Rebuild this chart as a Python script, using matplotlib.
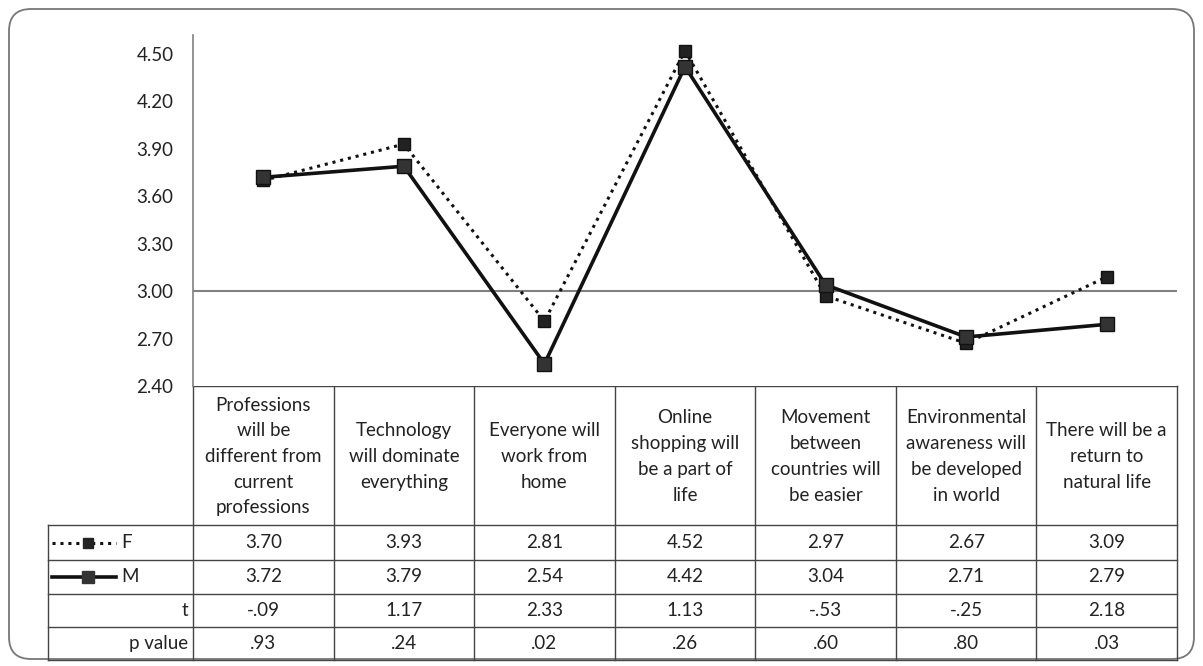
import numpy as np
import matplotlib.pyplot as plt
from matplotlib.patches import FancyBboxPatch
from matplotlib.lines import Line2D

categories = [
    "Professions\nwill be\ndifferent from\ncurrent\nprofessions",
    "Technology\nwill dominate\neverything",
    "Everyone will\nwork from\nhome",
    "Online\nshopping will\nbe a part of\nlife",
    "Movement\nbetween\ncountries will\nbe easier",
    "Environmental\nawareness will\nbe developed\nin world",
    "There will be a\nreturn to\nnatural life",
]
f_vals = [3.70, 3.93, 2.81, 4.52, 2.97, 2.67, 3.09]
m_vals = [3.72, 3.79, 2.54, 4.42, 3.04, 2.71, 2.79]
t_vals = ["-.09", "1.17", "2.33", "1.13", "-.53", "-.25", "2.18"]
p_vals = [".93", ".24", ".02", ".26", ".60", ".80", ".03"]
yticks = [2.40, 2.70, 3.00, 3.30, 3.60, 3.90, 4.20, 4.50]

W, H = 1203, 666
plt.rcParams['font.family'] = ['Lato', 'DejaVu Sans']
fs = 13.5
txt_col = '#222222'
grid_col = '#444444'

fig = plt.figure(figsize=(W / 100, H / 100), dpi=100)

# layout in pixels
x0, x1 = 193, 1177
y_top, y_bot = 35, 386
ax = fig.add_axes([x0 / W, 1 - y_bot / H, (x1 - x0) / W, (y_bot - y_top) / H])
n = len(categories)
xs = np.arange(n)
ax.set_xlim(-0.5, n - 0.5)
ax.set_ylim(2.40, 4.62)
ax.axhline(3.00, color='#808080', lw=1.5, zorder=1)
ax.plot(xs, f_vals, color='#111111', lw=2.2, ls=(0, (1, 1.6)), marker='s',
        ms=8.5, mfc='#222222', mec='#111111', zorder=3)
ax.plot(xs, m_vals, color='#111111', lw=2.6, marker='s',
        ms=9.5, mfc='#333333', mec='#111111', zorder=3)
ax.set_yticks(yticks)
ax.set_yticklabels([f"{v:.2f}" for v in yticks], fontsize=fs, color=txt_col)
ax.tick_params(axis='y', length=0, pad=14)
ax.set_xticks([])
for s in ['top', 'right', 'bottom']:
    ax.spines[s].set_visible(False)
ax.spines['left'].set_color('#808080')
ax.spines['left'].set_linewidth(1.2)

# overlay for the table and frame
ov = fig.add_axes([0, 0, 1, 1], zorder=-1)
ov.set_xlim(0, W)
ov.set_ylim(H, 0)
ov.axis('off')
ov.add_patch(FancyBboxPatch((9, 9), 1185, 650, boxstyle="round,pad=0,rounding_size=22",
                            fc='white', ec='#777777', lw=1.3))

cols = np.linspace(x0, x1, n + 1)
centers = (cols[:-1] + cols[1:]) / 2
left = 48
rows = [386, 525, 560, 594, 627, 660]

ov.plot([x0, x1], [rows[0], rows[0]], color=grid_col, lw=1)
for r in rows[1:]:
    ov.plot([left, x1], [r, r], color=grid_col, lw=1)
for c in cols:
    ov.plot([c, c], [rows[0], rows[-1]], color=grid_col, lw=1)
ov.plot([left, left], [rows[1], rows[-1]], color=grid_col, lw=1)

for i, cat in enumerate(categories):
    ov.text(centers[i], (rows[0] + rows[1]) / 2 + 1, cat, ha='center', va='center',
            fontsize=fs, color=txt_col, linespacing=1.62)
table_rows = [[f"{v:.2f}" for v in f_vals], [f"{v:.2f}" for v in m_vals], t_vals, p_vals]
for j, vals in enumerate(table_rows):
    yc = (rows[j + 1] + rows[j + 2]) / 2
    for i, v in enumerate(vals):
        ov.text(centers[i], yc, v, ha='center', va='center', fontsize=fs, color=txt_col)

# legend keys in left column
yF = (rows[1] + rows[2]) / 2
yM = (rows[2] + rows[3]) / 2
ov.add_line(Line2D([52, 116], [yF, yF], color='#111111', lw=2.2, ls=(0, (1, 1.6))))
ov.plot([88], [yF], marker='s', ms=7, color='#222222')
ov.add_line(Line2D([52, 116], [yM, yM], color='#111111', lw=2.6))
ov.plot([88], [yM], marker='s', ms=8, color='#333333')
ov.text(121, yF, "F", ha='left', va='center', fontsize=fs, color=txt_col)
ov.text(121, yM, "M", ha='left', va='center', fontsize=fs, color=txt_col)
ov.text(x0 - 5, (rows[3] + rows[4]) / 2, "t", ha='right', va='center', fontsize=fs, color=txt_col)
ov.text(x0 - 5, (rows[4] + rows[5]) / 2, "p value", ha='right', va='center', fontsize=fs, color=txt_col)

fig.savefig('out.png', dpi=100)
